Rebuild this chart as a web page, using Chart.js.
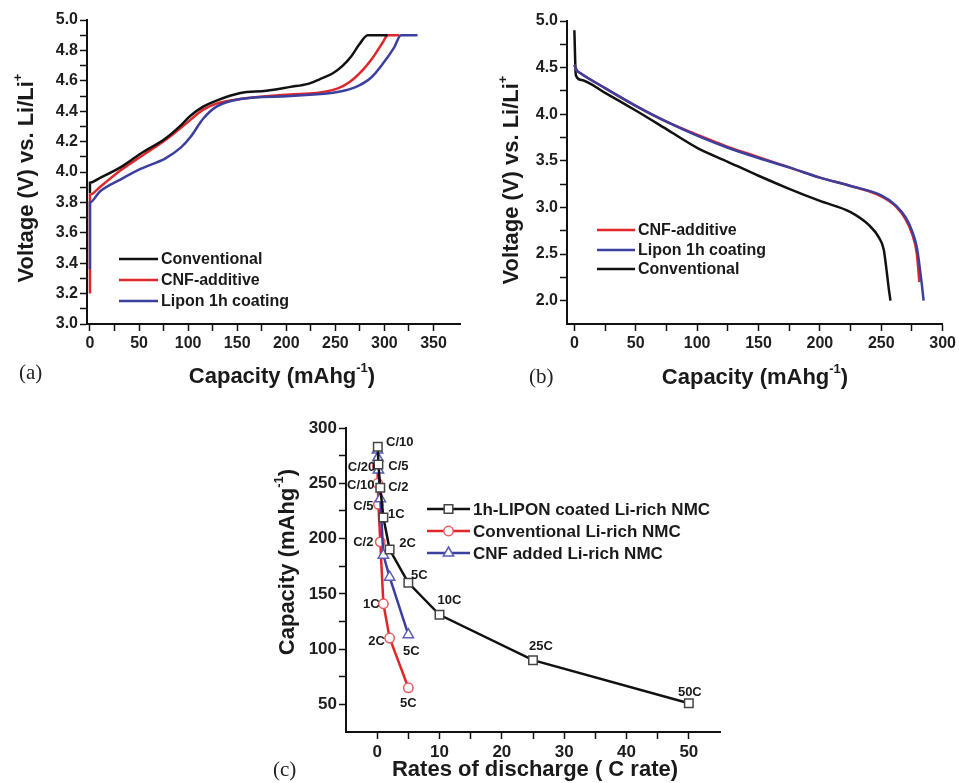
<!DOCTYPE html>
<html>
<head>
<meta charset="utf-8">
<script src="https://cdn.jsdelivr.net/npm/chart.js@4.4.1/dist/chart.umd.min.js"></script>
<style>
  body { margin: 0; background: #fff; width: 959px; height: 783px; position: relative; overflow: hidden; }
  canvas { position: absolute; }
  #chartA { left: 0; top: 0; }
  #chartB { left: 480px; top: 0; }
  #chartC { left: 250px; top: 395px; }
</style>
</head>
<body>
<canvas id="chartA" width="480" height="395"></canvas>
<canvas id="chartB" width="479" height="395"></canvas>
<canvas id="chartC" width="480" height="388"></canvas>
<script>
const FONT = '"Liberation Sans", Arial, Helvetica, sans-serif';
const RED = '#e1262b';
const BLUE = '#3b3f9e';
const BLACK = '#111111';

// (a) charge curves: capacity (mAh/g) and voltage (V)
const capA_conv = [0, 0, 9.9, 31, 51.5, 76.9, 91.5, 102.4, 115.3, 128.9, 153.3, 179.7, 204.1, 222.1, 233.9, 247.5, 257.6, 266.1, 274.5, 283, 303.3];
const voltA_conv = [3.86, 3.93, 3.96, 4.03, 4.12, 4.22, 4.30, 4.37, 4.43, 4.47, 4.52, 4.535, 4.56, 4.58, 4.61, 4.65, 4.70, 4.76, 4.84, 4.9, 4.9];
const capA_cnf = [0, 0, 9.9, 31, 51.5, 76.9, 98.2, 115.3, 128.9, 153.3, 204.1, 230.5, 252.5, 264.2, 277.8, 287.9, 298.1, 303.3, 315];
const voltA_cnf = [3.2, 3.85, 3.90, 4.01, 4.10, 4.21, 4.32, 4.41, 4.45, 4.48, 4.51, 4.52, 4.55, 4.59, 4.67, 4.75, 4.85, 4.9, 4.9];
const capA_lipon = [0, 0, 9.9, 31, 51.5, 76.9, 92.5, 102.4, 115.3, 128.9, 153.3, 204.1, 254.9, 271.1, 286.3, 298.1, 310, 316.8, 333.7];
const voltA_lipon = [3.36, 3.80, 3.87, 3.95, 4.02, 4.09, 4.16, 4.23, 4.35, 4.43, 4.48, 4.50, 4.53, 4.56, 4.62, 4.71, 4.82, 4.9, 4.9];

// (b) discharge curves
const capB_conv = [0, 1.2, 5, 25, 50, 75, 100, 125, 150, 175, 200, 225, 240, 248, 252, 254, 256, 257.5];
const voltB_conv = [4.9, 4.42, 4.37, 4.23, 4.04, 3.84, 3.64, 3.49, 3.34, 3.20, 3.07, 2.95, 2.81, 2.68, 2.55, 2.36, 2.14, 2.0];
const capB_cnf = [0, 2, 5, 25, 50, 75, 100, 125, 150, 175, 200, 225, 250, 262, 270, 275, 279, 281];
const voltB_cnf = [4.53, 4.47, 4.44, 4.28, 4.09, 3.92, 3.78, 3.65, 3.54, 3.43, 3.32, 3.23, 3.12, 3.01, 2.87, 2.72, 2.50, 2.2];
const capB_lipon = [0, 2, 5, 25, 50, 75, 100, 125, 150, 175, 200, 225, 250, 262, 270, 275, 279, 281, 283, 284.5];
const voltB_lipon = [4.53, 4.47, 4.44, 4.28, 4.09, 3.92, 3.77, 3.64, 3.53, 3.43, 3.32, 3.23, 3.13, 3.02, 2.89, 2.75, 2.57, 2.39, 2.18, 2.0];

// (c) rate capability
const rateLipon = [0.1, 0.2, 0.5, 1, 2, 5, 10, 25, 50];
const capLipon = [283, 267, 246, 219, 190, 160, 131, 90, 51];
const tagLipon = ['C/10', 'C/5', 'C/2', '1C', '2C', '5C', '10C', '25C', '50C'];
const rateConv = [0.05, 0.1, 0.2, 0.5, 1, 2, 5];
const capConv = [265, 250, 231, 197, 141, 110, 65];
const tagConv = ['C/20', 'C/10', 'C/5', 'C/2', '1C', '2C', '5C'];
const rateCnf = [0.05, 0.1, 0.2, 0.5, 1, 2, 5];
const capCnf = [280, 273, 262, 236, 185, 165, 113];
const tagCnf = ['', '', '', '', '', '', '5C'];

// tick labels
const capTicksA = [0, 50, 100, 150, 200, 250, 300, 350];
const voltTicksA = [3.0, 3.2, 3.4, 3.6, 3.8, 4.0, 4.2, 4.4, 4.6, 4.8, 5.0];
const capTicksB = [0, 50, 100, 150, 200, 250, 300];
const voltTicksB = [2.0, 2.5, 3.0, 3.5, 4.0, 4.5, 5.0];
const rateTicksC = [0, 10, 20, 30, 40, 50];
const capTicksC = [50, 100, 150, 200, 250, 300];

// label offsets (px) for the rate tags in (c)
const offLipon = [[22, -4], [20, 2], [18, 0], [13, -3], [18, -6], [11, -7], [10, -14], [8, -14], [1, -11]];
const offConv = [[-16, 1], [-17, 2], [-15, 2], [-17, 1], [-12, 1], [-13, 3], [0, 16]];
const offCnf = [[0, 0], [0, 0], [0, 0], [0, 0], [0, 0], [0, 0], [3, 17]];

const xy = (xs, ys) => xs.map((x, i) => ({ x: x, y: ys[i] }));
const mids = arr => arr.slice(1).map((v, i) => (v + arr[i]) / 2);

function axis(min, max, majors, fmt, fontSize, fit, isY) {
  const minors = mids(majors);
  return {
    type: 'linear', min: min, max: max,
    afterBuildTicks: s => { s.ticks = majors.concat(minors).sort((a, b) => a - b).map(v => ({ value: v })); },
    afterFit: s => { if (isY) s.width = fit; else s.height = fit; },
    ticks: {
      autoSkip: false, maxRotation: 0, padding: isY ? 2 : 3, color: '#1e1e1e',
      font: { family: FONT, size: fontSize, weight: 'bold' },
      callback: v => majors.includes(v) ? fmt(v) : ''
    },
    grid: { drawOnChartArea: false, tickLength: 7, tickWidth: 1.5, tickColor: '#111' },
    border: { color: '#111', width: 2 }
  };
}

function drawParts(ctx, parts, cx, cy, size, rot) {
  ctx.save();
  ctx.translate(cx, cy);
  if (rot) ctx.rotate(-Math.PI / 2);
  const big = 'bold ' + size + 'px ' + FONT;
  const small = 'bold ' + Math.round(size * 0.6) + 'px ' + FONT;
  let w = 0;
  parts.forEach(p => { ctx.font = p.sup ? small : big; p.w = ctx.measureText(p.t).width; w += p.w; });
  let x = -w / 2;
  ctx.textBaseline = 'middle';
  ctx.textAlign = 'left';
  ctx.fillStyle = '#1a1a1a';
  parts.forEach(p => {
    ctx.font = p.sup ? small : big;
    ctx.fillText(p.t, x, p.sup ? -size * 0.4 : 0);
    x += p.w;
  });
  ctx.restore();
}

function marker(ctx, kind, x, y, color) {
  ctx.save();
  ctx.fillStyle = '#fff';
  ctx.strokeStyle = color;
  ctx.lineWidth = 1.5;
  ctx.beginPath();
  if (kind === 'rect') ctx.rect(x - 4.3, y - 4.3, 8.6, 8.6);
  else if (kind === 'circle') ctx.arc(x, y, 4.7, 0, Math.PI * 2);
  else { ctx.moveTo(x, y - 6); ctx.lineTo(x + 5.2, y + 3); ctx.lineTo(x - 5.2, y + 3); ctx.closePath(); }
  ctx.fill();
  ctx.stroke();
  ctx.restore();
}

const capTitle = [{ t: 'Capacity (mAhg' }, { t: '-1', sup: true }, { t: ')' }];
const voltTitle = [{ t: 'Voltage (V) vs. Li/Li' }, { t: '+', sup: true }];

function decor(d) {
  return {
    id: 'decor',
    afterDraw(chart) {
      const ctx = chart.ctx;
      drawParts(ctx, d.xTitle, d.xt[0], d.xt[1], d.titleSize, false);
      drawParts(ctx, d.yTitle, d.yt[0], d.yt[1], d.titleSize, true);
      ctx.save();
      ctx.font = '21px "Liberation Serif", "Times New Roman", serif';
      ctx.fillStyle = '#222';
      ctx.textBaseline = 'middle';
      ctx.textAlign = 'left';
      ctx.fillText(d.letter, d.lt[0], d.lt[1]);
      // legend
      ctx.font = 'bold ' + d.legSize + 'px ' + FONT;
      d.legend.forEach(r => {
        ctx.strokeStyle = r.color;
        ctx.lineWidth = 2.5;
        ctx.beginPath();
        ctx.moveTo(d.leg[0], r.y);
        ctx.lineTo(d.leg[1], r.y);
        ctx.stroke();
        if (r.marker) marker(ctx, r.marker, (d.leg[0] + d.leg[1]) / 2, r.y, r.mcolor);
        ctx.fillStyle = '#1a1a1a';
        ctx.fillText(r.label, d.leg[2], r.y + 1);
      });
      // rate tags next to points
      if (d.tags) {
        ctx.font = 'bold 13px ' + FONT;
        ctx.textAlign = 'center';
        d.tags.forEach(t => {
          const pts = chart.getDatasetMeta(t.ds).data;
          t.text.forEach((s, i) => {
            if (!s) return;
            ctx.fillText(s, pts[i].x + t.off[i][0], pts[i].y + t.off[i][1]);
          });
        });
      }
      ctx.restore();
    }
  };
}

const common = {
  responsive: false,
  animation: false,
  events: [],
  plugins: { legend: { display: false }, tooltip: { enabled: false } }
};

function curve(data, color) {
  return { data: data, borderColor: color, borderWidth: 2.5, pointRadius: 0, cubicInterpolationMode: 'monotone', fill: false };
}

// (a)
new Chart(document.getElementById('chartA'), {
  type: 'line',
  data: {
    datasets: [
      curve(xy(capA_lipon, voltA_lipon), BLUE),
      curve(xy(capA_conv, voltA_conv), BLACK),
      curve(xy(capA_cnf, voltA_cnf), RED)
    ]
  },
  options: Object.assign({}, common, {
    layout: { padding: { left: 0, top: 20, right: 20, bottom: 0 } },
    scales: {
      x: axis(-3, 377, capTicksA, v => String(v), 16, 71, false),
      y: axis(3.0, 5.0, voltTicksA, v => v.toFixed(1), 16, 87, true)
    }
  }),
  plugins: [decor({
    xTitle: capTitle, xt: [282, 377], yTitle: voltTitle, yt: [27, 178], titleSize: 22,
    letter: '(a)', lt: [19, 373], legSize: 16, leg: [119, 158, 161],
    legend: [
      { label: 'Conventional', color: BLACK, y: 259 },
      { label: 'CNF-additive', color: RED, y: 280 },
      { label: 'Lipon 1h coating', color: BLUE, y: 301 }
    ]
  })]
});

// (b)
new Chart(document.getElementById('chartB'), {
  type: 'line',
  data: {
    datasets: [
      curve(xy(capB_lipon, voltB_lipon), BLUE),
      curve(xy(capB_cnf, voltB_cnf), RED),
      curve(xy(capB_conv, voltB_conv), BLACK)
    ]
  },
  options: Object.assign({}, common, {
    layout: { padding: { left: 0, top: 21, right: 15, bottom: 0 } },
    scales: {
      x: axis(-6, 300, capTicksB, v => String(v), 16, 71, false),
      y: axis(1.75, 5.0, voltTicksB, v => v.toFixed(1), 16, 87, true)
    }
  }),
  plugins: [decor({
    xTitle: capTitle, xt: [275, 378], yTitle: voltTitle, yt: [32, 180], titleSize: 22,
    letter: '(b)', lt: [49, 377], legSize: 16, leg: [117, 155, 158],
    legend: [
      { label: 'CNF-additive', color: RED, y: 230 },
      { label: 'Lipon 1h coating', color: BLUE, y: 250 },
      { label: 'Conventional', color: BLACK, y: 269 }
    ]
  })]
});

// (c)
function rateSet(data, color, style, mcolor, r) {
  return {
    data: data, borderColor: color, borderWidth: 2.5, tension: 0, fill: false,
    pointStyle: style, pointRadius: r, pointBorderColor: mcolor, pointBackgroundColor: '#fff', pointBorderWidth: 1.5
  };
}

new Chart(document.getElementById('chartC'), {
  type: 'line',
  data: {
    datasets: [
      rateSet(xy(rateLipon, capLipon), BLACK, 'rect', '#444', 6),
      rateSet(xy(rateCnf, capCnf), BLUE, 'triangle', '#5a5fb5', 6),
      rateSet(xy(rateConv, capConv), RED, 'circle', '#e8585c', 4.7)
    ]
  },
  options: Object.assign({}, common, {
    layout: { padding: { left: 0, top: 33, right: 10, bottom: 0 } },
    scales: {
      x: axis(-5, 55, rateTicksC, v => String(v), 17, 51, false),
      y: axis(25, 300, capTicksC, v => String(v), 17, 96, true)
    }
  }),
  plugins: [decor({
    xTitle: [{ t: 'Rates of discharge ( C rate)' }], xt: [285, 375],
    yTitle: capTitle, yt: [38, 167], titleSize: 22,
    letter: '(c)', lt: [23, 375], legSize: 17, leg: [177, 220, 223],
    legend: [
      { label: '1h-LIPON coated Li-rich NMC', color: BLACK, y: 114, marker: 'rect', mcolor: '#444' },
      { label: 'Conventional Li-rich NMC', color: RED, y: 136, marker: 'circle', mcolor: '#e8585c' },
      { label: 'CNF added Li-rich NMC', color: BLUE, y: 158, marker: 'tri', mcolor: '#5a5fb5' }
    ],
    tags: [
      { ds: 0, text: tagLipon, off: offLipon },
      { ds: 2, text: tagConv, off: offConv },
      { ds: 1, text: tagCnf, off: offCnf }
    ]
  })]
});
</script>
</body>
</html>
